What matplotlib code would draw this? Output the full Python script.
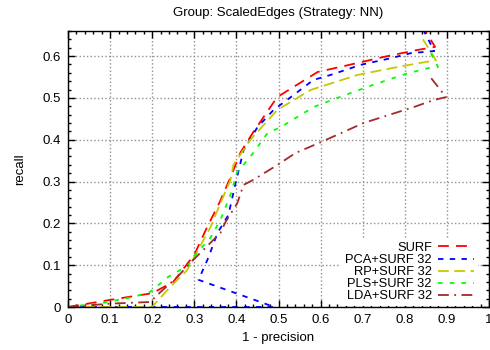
import matplotlib
matplotlib.use("Agg")
import matplotlib.pyplot as plt
from matplotlib.ticker import MultipleLocator

plt.rcParams["font.family"] = ["Liberation Sans", "DejaVu Sans"]

# 1 - precision / recall pairs
surf_x = [0, 0.1, 0.2, 0.25, 0.3, 0.33, 0.36, 0.386, 0.41, 0.44, 0.497, 0.593, 0.655, 0.75, 0.826, 0.872, 0.83]
surf_y = [0, 0.017, 0.033, 0.06, 0.125, 0.19, 0.25, 0.31, 0.37, 0.418, 0.502, 0.562, 0.576, 0.598, 0.614, 0.622, 0.69]

pca_x = [0, 0.49, 0.31, 0.333, 0.355, 0.381, 0.398, 0.417, 0.45, 0.488, 0.536, 0.583, 0.624, 0.695, 0.767, 0.814, 0.87, 0.835]
pca_y = [0, 0, 0.065, 0.117, 0.177, 0.22, 0.296, 0.375, 0.43, 0.471, 0.507, 0.543, 0.555, 0.579, 0.595, 0.607, 0.612, 0.68]

rp_x = [0, 0.2, 0.21, 0.243, 0.283, 0.338, 0.362, 0.386, 0.393, 0.433, 0.497, 0.576, 0.688, 0.783, 0.833, 0.874, 0.843]
rp_y = [0, 0, 0.012, 0.048, 0.088, 0.19, 0.248, 0.304, 0.34, 0.40, 0.471, 0.519, 0.555, 0.574, 0.583, 0.59, 0.64]

pls_x = [0, 0.083, 0.155, 0.195, 0.238, 0.286, 0.298, 0.338, 0.362, 0.386, 0.402, 0.433, 0.474, 0.505, 0.583, 0.64, 0.724, 0.807, 0.855, 0.879, 0.855]
pls_y = [0, 0.01, 0.024, 0.036, 0.072, 0.1, 0.12, 0.165, 0.208, 0.268, 0.323, 0.359, 0.416, 0.43, 0.478, 0.5, 0.531, 0.559, 0.571, 0.574, 0.62]

lda_x = [0, 0.1, 0.195, 0.22, 0.26, 0.29, 0.314, 0.362, 0.374, 0.402, 0.417, 0.44, 0.498, 0.54, 0.6, 0.702, 0.821, 0.869, 0.898, 0.862]
lda_y = [0, 0.008, 0.012, 0.036, 0.072, 0.105, 0.129, 0.177, 0.203, 0.248, 0.292, 0.304, 0.34, 0.368, 0.394, 0.44, 0.478, 0.495, 0.502, 0.548]

fig = plt.figure(figsize=(4.9, 3.5), dpi=100)
ax = fig.add_axes([68 / 490, 43 / 350, 421 / 490, 276 / 350])

lw = 1.3
ax.plot(surf_x, surf_y, color="#ff0000", lw=lw, dashes=(6, 4), label="SURF")
ax.plot(pca_x, pca_y, color="#0000ff", lw=lw, dashes=(3, 3.5), label="PCA+SURF 32")
ax.plot(rp_x, rp_y, color="#c8c800", lw=lw, dashes=(6, 3), label="RP+SURF 32")
ax.plot(pls_x, pls_y, color="#00ff00", lw=lw, dashes=(2.5, 4), label="PLS+SURF 32")
ax.plot(lda_x, lda_y, color="#a52a2a", lw=lw, dashes=(6, 3, 1, 3), label="LDA+SURF 32")

ax.set_xlim(0, 1)
ax.set_ylim(0, 0.66)
ax.xaxis.set_minor_locator(MultipleLocator(0.02))
ax.yaxis.set_minor_locator(MultipleLocator(0.02))
ax.set_xticks([0, 0.1, 0.2, 0.3, 0.4, 0.5, 0.6, 0.7, 0.8, 0.9, 1.0])
ax.set_xticklabels(["0", "0.1", "0.2", "0.3", "0.4", "0.5", "0.6", "0.7", "0.8", "0.9", "1"])
ax.set_yticks([0, 0.1, 0.2, 0.3, 0.4, 0.5, 0.6])
ax.set_yticklabels(["0", "0.1", "0.2", "0.3", "0.4", "0.5", "0.6"])
ax.tick_params(which="both", direction="in", top=True, right=True, labelsize=9.5)
ax.tick_params(which="major", length=5, width=1, pad=5)
ax.tick_params(which="minor", length=2.5, width=1)
ax.grid(True, which="major", color="#909090", linestyle=":", lw=1)
ax.set_axisbelow(True)
for s in ax.spines.values():
    s.set_linewidth(1)

ax.set_xlabel("1 - precision", fontsize=9.5, labelpad=4)
ax.set_ylabel("recall", fontsize=9.5, labelpad=12)
ax.set_title("Group: ScaledEdges (Strategy: NN)", fontsize=9.5, pad=11)

leg = ax.legend(loc="lower right", markerfirst=False, fontsize=9.3, frameon=True,
                edgecolor="none", facecolor="white", framealpha=1, fancybox=False,
                handlelength=2.8, handletextpad=0.5, labelspacing=0.0,
                borderpad=0.3, bbox_to_anchor=(0.99, -0.02))

fig.savefig("out.png", dpi=100)
